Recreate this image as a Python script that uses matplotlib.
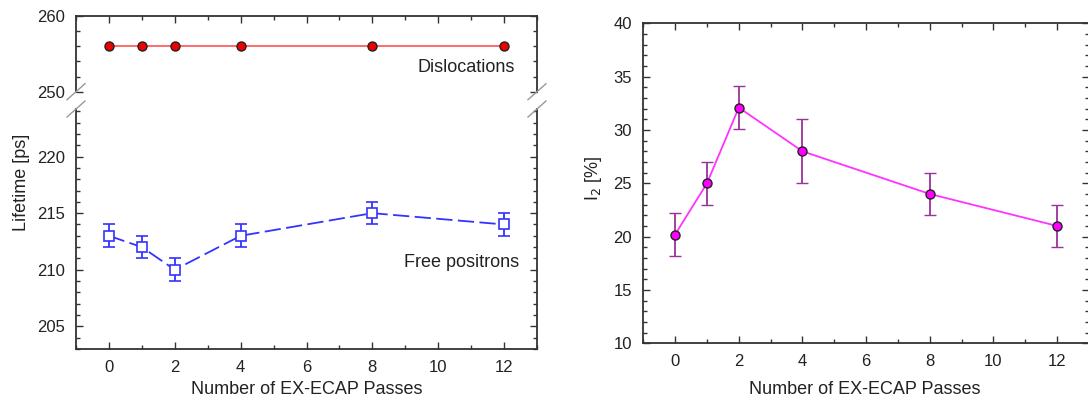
import matplotlib
matplotlib.use("Agg")
import matplotlib.pyplot as plt
from matplotlib.ticker import MultipleLocator

plt.rcParams['font.family'] = ['Liberation Sans', 'DejaVu Sans']

passes = [0, 1, 2, 4, 8, 12]
dislocations = [256, 256, 256, 256, 256, 256]
free_positrons = [213, 212, 210, 213, 215, 214]
free_err = [1, 1, 1, 1, 1, 1]
i2 = [20.2, 25, 32.1, 28, 24, 21]
i2_err = [2, 2, 2, 3, 2, 2]
xticks = [0, 2, 4, 6, 8, 10, 12]

W, H = 1088, 405
fig = plt.figure(figsize=(W / 100, H / 100), dpi=100)

def frac(x0, y0, x1, y1):
    return [x0 / W, 1 - y1 / H, (x1 - x0) / W, (y1 - y0) / H]

spine_c = '#333333'
text_c = '#222222'

def style(ax):
    for s in ax.spines.values():
        s.set_color(spine_c)
        s.set_linewidth(1.3)
    ax.tick_params(which='both', direction='in', top=True, right=True,
                   colors=spine_c, labelcolor=text_c, labelsize=12, width=1.0)
    ax.tick_params(which='major', length=5, pad=8)
    ax.tick_params(which='minor', length=3)

ax_up = fig.add_axes(frac(76, 15.7, 537, 91.7))
ax_lo = fig.add_axes(frac(76, 109, 537, 349))
ax_r = fig.add_axes(frac(643.3, 23.3, 1089, 343.3))

for ax in (ax_up, ax_lo, ax_r):
    style(ax)
    ax.set_xlim(-1, 13)
    ax.set_xticks(xticks)
    ax.xaxis.set_minor_locator(MultipleLocator(1))

# upper (dislocations)
ax_up.plot(passes, dislocations, color='#ff6060', lw=1.3, marker='o', ms=6.5,
           mfc='#ee0000', mec='#222222', mew=1.0)
ax_up.set_ylim(250, 260)
ax_up.set_yticks([250, 260])
ax_up.yaxis.set_minor_locator(MultipleLocator(2))
ax_up.spines['bottom'].set_visible(False)
ax_up.tick_params(which='both', bottom=False, labelbottom=False)
ax_up.text(10.85, 253.2, 'Dislocations', ha='center', va='center', fontsize=13, color=text_c)

# lower (free positrons)
ax_lo.errorbar(passes, free_positrons, yerr=free_err, color='#3333ff', lw=1.3,
               ls=(0, (9, 3)), marker='s', ms=7, mfc='white', mec='#3333ff', mew=1.2,
               capsize=4, elinewidth=1.3, capthick=1.3)
ax_lo.set_ylim(203, 224.2)
ax_lo.set_yticks([205, 210, 215, 220])
ax_lo.yaxis.set_minor_locator(MultipleLocator(1))
ax_lo.spines['top'].set_visible(False)
ax_lo.tick_params(which='both', top=False)
ax_lo.text(10.7, 210.6, 'Free positrons', ha='center', va='center', fontsize=13, color=text_c)

# break marks
for xpix in (76, 537):
    for ypix in (91.7, 109):
        fig.add_artist(plt.Line2D([(xpix - 9) / W, (xpix + 9) / W],
                                  [1 - (ypix + 8) / H, 1 - (ypix - 8) / H],
                                  color='#999999', lw=1.0, transform=fig.transFigure))

fig.text(22 / W, 1 - 182 / H, 'Lifetime [ps]', rotation=90, ha='center', va='center',
         fontsize=13, color=text_c)
fig.text((76 + 537) / 2 / W, 1 - 389 / H, 'Number of EX-ECAP Passes', ha='center',
         va='center', fontsize=13, color=text_c)

# right chart
ax_r.errorbar(passes, i2, yerr=i2_err, color='#ff33ff', lw=1.3, marker='o', ms=6.5,
              mfc='#ff00ff', mec='#222222', mew=1.0, ecolor='#993399',
              capsize=4, elinewidth=1.3, capthick=1.3)
ax_r.set_ylim(10, 40)
ax_r.set_yticks([10, 15, 20, 25, 30, 35, 40])
ax_r.yaxis.set_minor_locator(MultipleLocator(1))
fig.text(865 / W, 1 - 389 / H, 'Number of EX-ECAP Passes', ha='center',
         va='center', fontsize=13, color=text_c)
fig.text(594 / W, 1 - 178 / H, 'I$_2$ [%]', rotation=90, ha='center', va='center',
         fontsize=13, color=text_c)

fig.savefig('out.png', dpi=100)
